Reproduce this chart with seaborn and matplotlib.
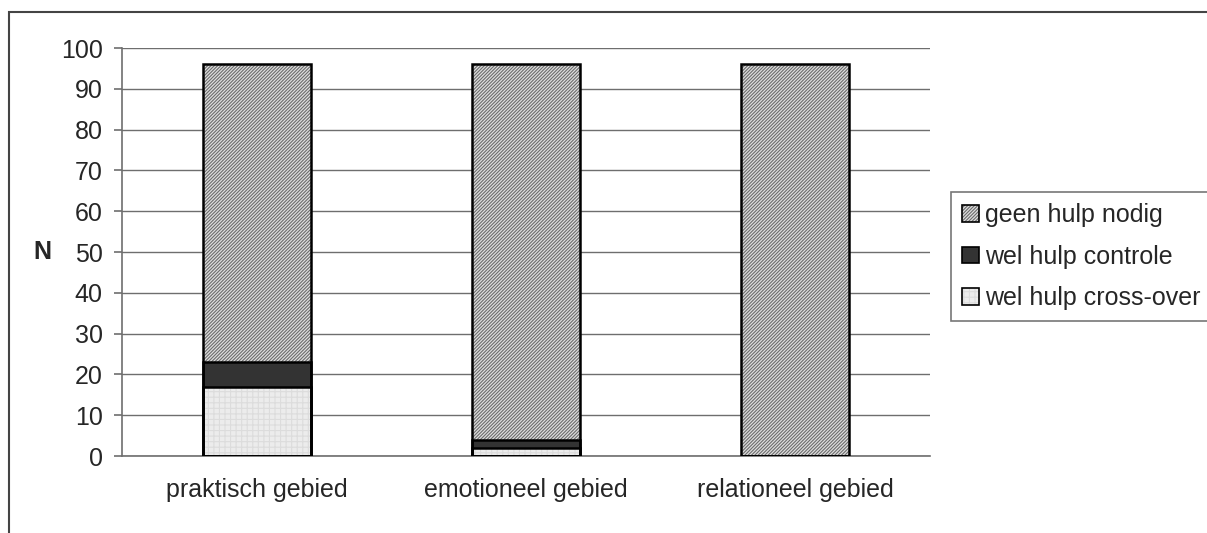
import numpy as np
import pandas as pd
import matplotlib
matplotlib.use("Agg")
import matplotlib.pyplot as plt
import seaborn as sns
from matplotlib.patches import Patch, Rectangle

# data
categories = ["praktisch gebied", "emotioneel gebied", "relationeel gebied"]
cross_over = [17, 2, 0]
controle = [6, 2, 0]
geen_hulp = [73, 92, 96]

y_ticks = list(range(0, 101, 10))

df = pd.DataFrame({
    "gebied": categories,
    "cross": cross_over,
    "controle": controle,
    "geen": geen_hulp,
})
df["top_controle"] = df["cross"] + df["controle"]
df["top_geen"] = df["top_controle"] + df["geen"]

sns.set_style("white")
plt.rcParams["font.family"] = ["Liberation Sans", "DejaVu Sans"]
plt.rcParams["hatch.linewidth"] = 0.8

fs = 18
fig = plt.figure(figsize=(12.07, 5.33), dpi=100)
ax = fig.add_axes([122 / 1207, 1 - 456 / 533, 808 / 1207, 408 / 533])

bw = 0.4
layers = [
    ("top_geen", "#dedede", "/" * 10, "#6c6c6c", "geen hulp nodig"),
    ("top_controle", "#333333", None, "#333333", "wel hulp controle"),
    ("cross", "#ececec", "+" * 3, "#dcdcdc", "wel hulp cross-over"),
]
handles = []
labels = []
for col, fc, hatch, hc, label in layers:
    # filled + hatched body
    sns.barplot(data=df, x="gebied", y=col, ax=ax, width=bw, color=fc,
                saturation=1, hatch=hatch, edgecolor=hc, linewidth=0,
                zorder=2, errorbar=None)
    # black outline on top
    sns.barplot(data=df, x="gebied", y=col, ax=ax, width=bw, fill=False,
                edgecolor="black", linewidth=1.8, zorder=3, errorbar=None)
    handles.append((Patch(facecolor=fc, hatch=hatch, edgecolor=hc, linewidth=0),
                    Patch(fill=False, edgecolor="black", linewidth=1.2)))
    labels.append(label)

ax.set_xlim(-0.5, 2.5)
ax.set_ylim(0, 100)
ax.set_yticks(y_ticks)
ax.yaxis.grid(True, color="#6e6e6e", linewidth=1, zorder=0)
ax.set_axisbelow(True)
for s in ["top", "right"]:
    ax.spines[s].set_visible(False)
for s in ["left", "bottom"]:
    ax.spines[s].set_color("#6e6e6e")
    ax.spines[s].set_linewidth(1.2)

ax.set_xticks([-0.5, 0.5, 1.5, 2.5], minor=True)
ax.tick_params(axis="x", which="major", length=0, pad=16, labelsize=fs)
ax.tick_params(axis="x", which="minor", length=6, color="#6e6e6e", width=1.2,
               direction="out")
ax.tick_params(axis="y", length=6, color="#6e6e6e", width=1.2, pad=8,
               labelsize=fs, left=True, direction="out")
ax.set_xlabel("")
ax.set_ylabel("N", rotation=0, fontweight="bold", fontsize=fs,
              va="center", ha="center")
ax.yaxis.set_label_coords(-0.099, 0.5)

leg = fig.legend(handles, labels, loc="upper left",
                 bbox_to_anchor=(951 / 1207, 1 - 192 / 533), fontsize=fs,
                 frameon=True, fancybox=False, handlelength=0.65,
                 handleheight=0.65, handletextpad=0.25, labelspacing=0.7,
                 borderpad=0.45, borderaxespad=0)
leg.get_frame().set_edgecolor("#555555")
leg.get_frame().set_linewidth(1.2)

# outer chart-area border (right and bottom edges fall outside the image)
fig.patches.append(Rectangle((9 / 1207, -0.2), 1.2, 1.2 - 12 / 533,
                             transform=fig.transFigure, fill=False,
                             edgecolor="#444444", linewidth=1.5))

fig.savefig("out.png", dpi=100)
